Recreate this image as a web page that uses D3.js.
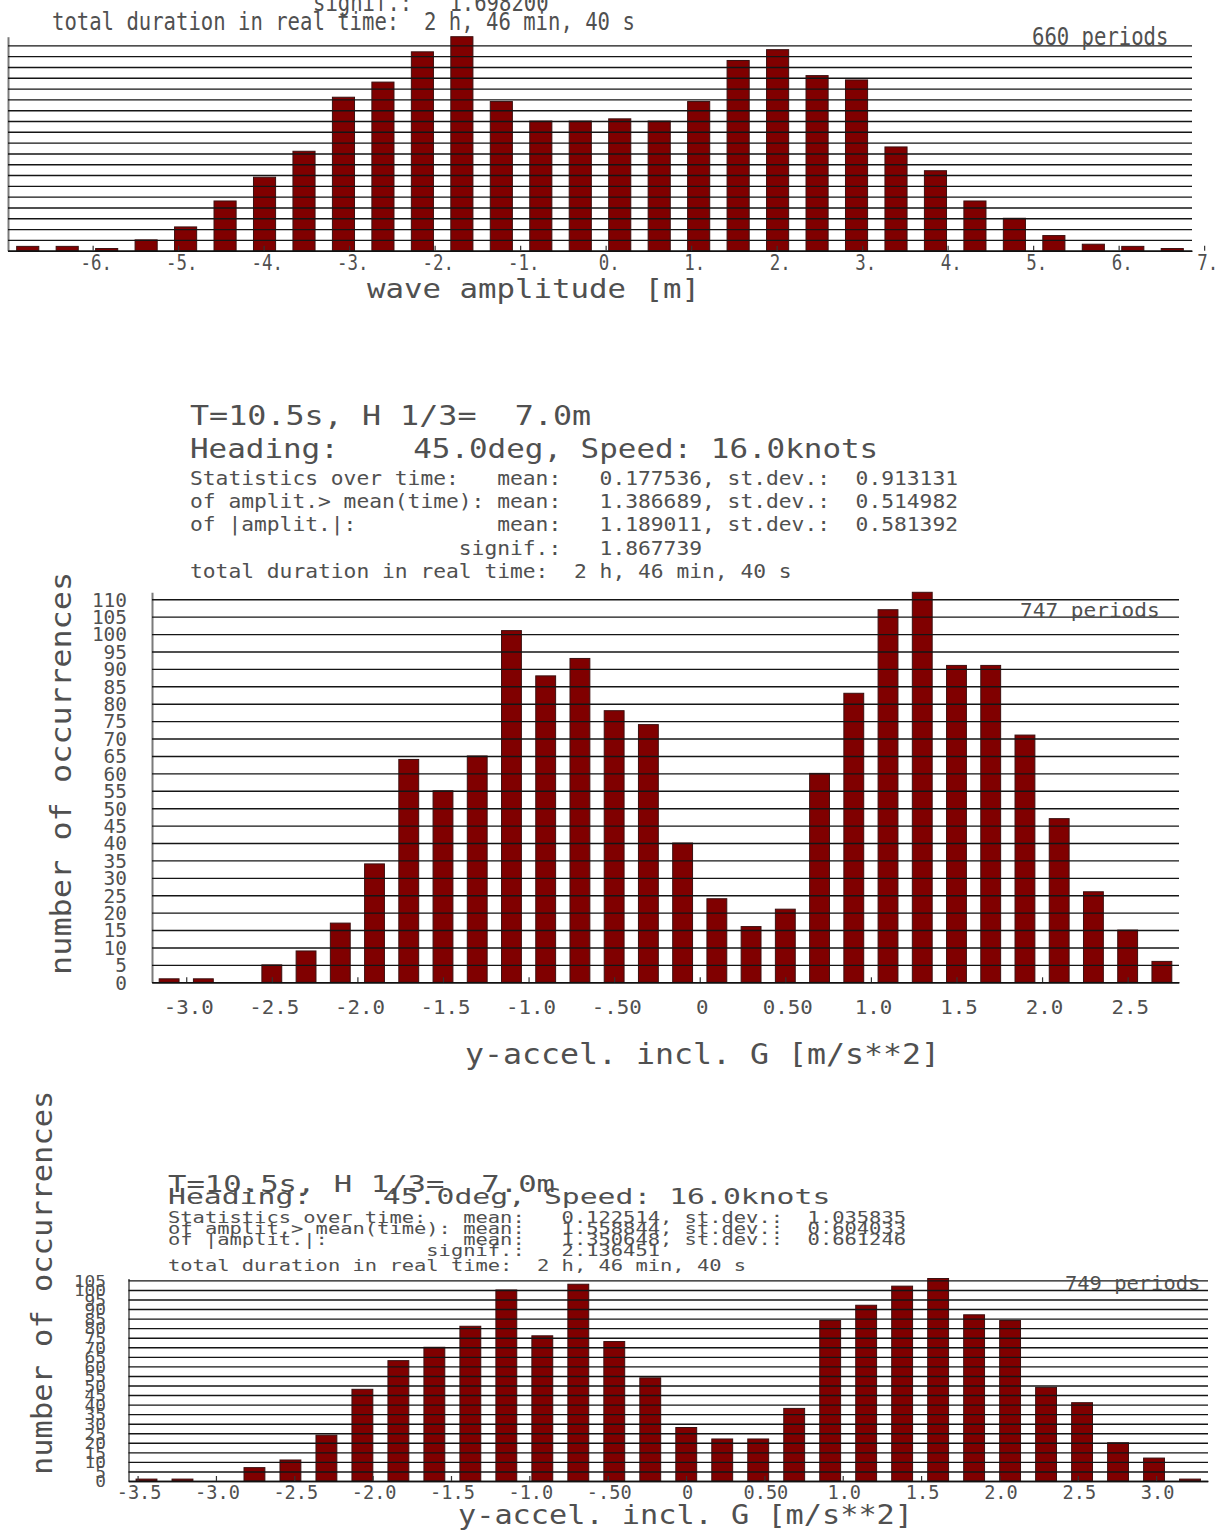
<!DOCTYPE html>
<html>
<head>
<meta charset="utf-8">
<script src="https://cdn.jsdelivr.net/npm/d3@7"></script>
<style>
  body { margin: 0; background: #fff; }
  svg text { font-family: "DejaVu Sans Mono", monospace; fill: #505050; white-space: pre; }
</style>
</head>
<body>
<div id="chart"></div>
<script>
// ---- data ----
// top histogram: wave amplitude (cut off at the top of the page)
var waveCounts = [2, 2, 1, 5, 11, 23, 34, 46, 71, 78, 92, 99, 69, 60, 60, 61, 60, 69, 88, 93, 81, 79, 48, 37, 23, 15, 7, 3, 2, 1];
var waveTicks = [-6, -5, -4, -3, -2, -1, 0, 1, 2, 3, 4, 5, 6, 7];
var waveTickLabels = ["-6.", "-5.", "-4.", "-3.", "-2.", "-1.", "0.", "1.", "2.", "3.", "4.", "5.", "6.", "7."];

// middle histogram: y-accel, 747 periods
var accCounts1 = [1, 1, 0, 5, 9, 17, 34, 64, 55, 65, 101, 88, 93, 78, 74, 40, 24, 16, 21, 60, 83, 107, 112, 91, 91, 71, 47, 26, 15, 6];
var accTicks1 = [-3, -2.5, -2, -1.5, -1, -0.5, 0, 0.5, 1, 1.5, 2, 2.5];
var accTickLabels1 = ["-3.0", "-2.5", "-2.0", "-1.5", "-1.0", "-.50", "0", "0.50", "1.0", "1.5", "2.0", "2.5"];

// bottom histogram: y-accel, 749 periods
var accCounts2 = [1, 1, 0, 7, 11, 24, 48, 63, 70, 81, 100, 76, 103, 73, 54, 28, 22, 22, 38, 84, 92, 102, 106, 87, 84, 49, 41, 20, 12, 1];
var accTicks2 = [-3.5, -3, -2.5, -2, -1.5, -1, -0.5, 0, 0.5, 1, 1.5, 2, 2.5, 3];
var accTickLabels2 = ["-3.5", "-3.0", "-2.5", "-2.0", "-1.5", "-1.0", "-.50", "0", "0.50", "1.0", "1.5", "2.0", "2.5", "3.0"];

var header1 = ["T=10.5s, H 1/3=  7.0m", "Heading:    45.0deg, Speed: 16.0knots"];
var stats1 = [
  "Statistics over time:   mean:   0.177536, st.dev.:  0.913131",
  "of amplit.> mean(time): mean:   1.386689, st.dev.:  0.514982",
  "of |amplit.|:           mean:   1.189011, st.dev.:  0.581392",
  "                     signif.:   1.867739",
  "total duration in real time:  2 h, 46 min, 40 s"
];
var header2 = ["T=10.5s, H 1/3=  7.0m", "Heading:    45.0deg, Speed: 16.0knots"];
var stats2 = [
  "Statistics over time:   mean:   0.122514, st.dev.:  1.035835",
  "of amplit.> mean(time): mean:   1.558844, st.dev.:  0.604033",
  "of |amplit.|:           mean:   1.350648, st.dev.:  0.661246",
  "                     signif.:   2.136451",
  "total duration in real time:  2 h, 46 min, 40 s"
];

var svg = d3.select("#chart").append("svg")
  .attr("width", 1224)
  .attr("height", 1532);

// monospace line of text stretched to a fixed advance per character
function label(g, str, x, y, size, adv, anchor) {
  var lead = str.length - str.replace(/^ +/, "").length;
  var s = str.slice(lead);
  return g.append("text")
    .attr("x", x + lead * adv)
    .attr("y", y)
    .attr("font-size", size)
    .attr("text-anchor", anchor || "start")
    .attr("textLength", s.length * adv)
    .attr("lengthAdjust", "spacingAndGlyphs")
    .text(s);
}

function drawHist(c) {
  var g = svg.append("g");
  var n = c.counts.length;
  var ymax = d3.max(c.counts);
  var x = d3.scaleLinear().domain([c.xlo, c.xhi]).range([c.left, c.right]);
  var y = d3.scaleLinear().domain([0, ymax]).range([c.base, c.top]);
  var bw = (c.xhi - c.xlo) / n;

  g.selectAll("rect.bar")
    .data(c.counts)
    .enter()
    .append("rect")
    .attr("class", "bar")
    .attr("x", function(d, i) { return x(c.xlo + (i + 0.5 - c.barFrac / 2) * bw); })
    .attr("width", x(c.xlo + c.barFrac * bw) - x(c.xlo))
    .attr("y", function(d) { return y(d); })
    .attr("height", function(d) { return y(0) - y(d); })
    .attr("fill", "#800000")
    .attr("stroke", "#3a1010")
    .attr("stroke-width", 1);

  // horizontal grid lines every 5, drawn over the bars
  var yAxis = d3.axisLeft(y)
    .tickValues(d3.range(0, ymax + 1, 5))
    .tickSize(-(c.right - c.left))
    .tickSizeOuter(0)
    .tickPadding(c.yPad)
    .tickFormat(c.yLabels ? d3.format("d") : "");
  var ga = g.append("g")
    .attr("transform", "translate(" + c.left + ",0)")
    .call(yAxis);
  ga.select(".domain").attr("stroke", "#7a7a7a").attr("stroke-width", 2);
  ga.selectAll(".tick line").attr("stroke", "#151515").attr("stroke-width", 1.4);
  ga.selectAll(".tick text")
    .attr("font-size", c.yFont)
    .attr("dy", null)
    .attr("y", c.yFont * 0.36)
    .attr("textLength", function(d) { return String(d).length * c.yAdv; })
    .attr("lengthAdjust", "spacingAndGlyphs");

  var xAxis = d3.axisBottom(x)
    .tickValues(c.ticks)
    .tickFormat(function(d, i) { return c.tickLabels[i]; })
    .tickSize(-5)
    .tickSizeOuter(0);
  var gx = g.append("g")
    .attr("transform", "translate(0," + c.base + ")")
    .call(xAxis);
  gx.select(".domain").attr("stroke", "#111").attr("stroke-width", 1.6);
  gx.selectAll(".tick line").attr("stroke", "#333").attr("stroke-width", 1.2);
  gx.selectAll(".tick text")
    .attr("font-size", c.xFont)
    .attr("dy", null)
    .attr("y", c.xLabY)
    .attr("x", c.xLabDx)
    .attr("textLength", function(d, i) { return c.tickLabels[i].length * c.xAdv; })
    .attr("lengthAdjust", "spacingAndGlyphs");
  return g;
}

// ---- top chart (wave amplitude) ----
var gTop = drawHist({
  counts: waveCounts, ticks: waveTicks, tickLabels: waveTickLabels,
  xlo: -6.99, xhi: 6.858, left: 8, right: 1192, base: 250.7, top: 36.7,
  barFrac: 0.56, yLabels: false, yPad: 4, yFont: 20, yAdv: 11,
  xFont: 21, xAdv: 10.5, xLabY: 19, xLabDx: 3
});
label(gTop, "signif.:   1.698200", 313, 11, 24, 12.4);
label(gTop, "total duration in real time:  2 h, 46 min, 40 s", 52, 30, 24, 12.4);
label(gTop, "660 periods", 1032, 45, 24, 12.4);
label(gTop, "wave amplitude [m]", 367, 298, 27, 18.5);

// ---- middle chart ----
var gMid = drawHist({
  counts: accCounts1, ticks: accTicks1, tickLabels: accTickLabels1,
  xlo: -3.2, xhi: 2.8, left: 152, right: 1179, base: 982.3, top: 592.3,
  barFrac: 0.58, yLabels: true, yPad: 25, yFont: 19, yAdv: 11.7,
  xFont: 19, xAdv: 12.5, xLabY: 32, xLabDx: 2
});
label(gMid, header1[0], 190, 425, 27, 19.1);
label(gMid, header1[1], 190, 458, 27, 18.6);
stats1.forEach(function(s, i) {
  label(gMid, s, 190, [485, 508, 531, 555, 578][i], 19, 12.8);
});
label(gMid, "747 periods", 1020, 617, 20, 12.7);
label(gMid, "y-accel. incl. G [m/s**2]", 465, 1064, 28, 19);
label(gMid, "number of occurrences", 0, 0, 28, 19.2)
  .attr("transform", "translate(71,975) rotate(-90)");

// ---- bottom chart ----
var gBot = drawHist({
  counts: accCounts2, ticks: accTicks2, tickLabels: accTickLabels2,
  xlo: -3.558, xhi: 3.331, left: 128.5, right: 1208, base: 1481, top: 1278.5,
  barFrac: 0.58, yLabels: true, yPad: 22.5, yFont: 16, yAdv: 10.7,
  xFont: 19, xAdv: 11.2, xLabY: 18, xLabDx: 1
});
label(gBot, header2[0], 168, 1192, 23, 18.43);
label(gBot, header2[1], 168, 1204, 22, 17.9);
stats2.forEach(function(s, i) {
  label(gBot, s, 168, [1223, 1234, 1245, 1256, 1271][i], 16, 12.3);
});
label(gBot, "749 periods", 1065, 1290, 20, 12.3);
label(gBot, "y-accel. incl. G [m/s**2]", 458, 1524, 27, 18.2);
label(gBot, "number of occurrences", 0, 0, 28, 18.3)
  .attr("transform", "translate(52,1475) rotate(-90)");
</script>
</body>
</html>
